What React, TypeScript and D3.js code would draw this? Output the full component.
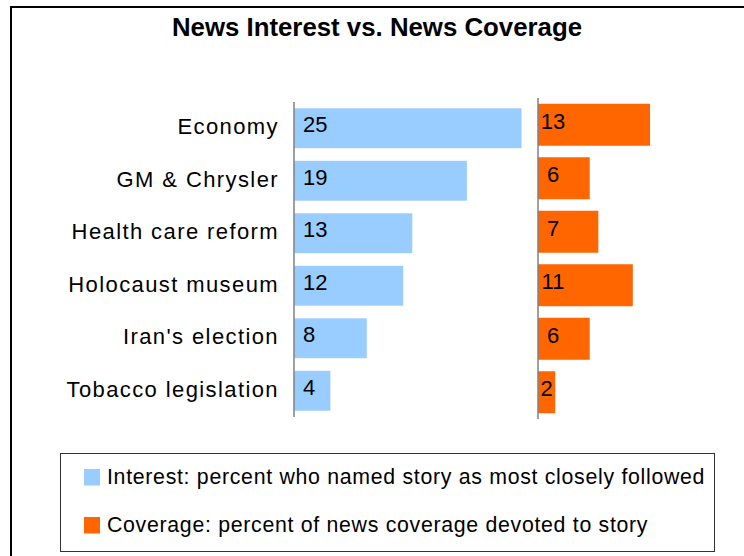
import React from 'react';
import * as d3 from 'd3';

const title = "News Interest vs. News Coverage";
const categories = [
  "Economy",
  "GM & Chrysler",
  "Health care reform",
  "Holocaust museum",
  "Iran's election",
  "Tobacco legislation",
];
const interest = [25, 19, 13, 12, 8, 4];
const coverage = [13, 6, 7, 11, 6, 2];
const legendLabels = [
  "Interest: percent who named story as most closely followed",
  "Coverage: percent of news coverage devoted to story",
];
const seriesColors = ["#99CCFF", "#FF6600"];

const FONT = "'Liberation Sans', Arial, sans-serif";

export default function App() {
  const yL = d3.scaleBand<string>().domain(categories).range([102, 417]).paddingInner(0.24).paddingOuter(0.12);
  const yR = d3.scaleBand<string>().domain(categories).range([98, 419]).paddingInner(0.215).paddingOuter(0.1075);
  const xL = d3.scaleLinear().domain([0, 30]).range([294, 567]);
  const xR = d3.scaleLinear().domain([0, 20]).range([538, 710.4]);

  return (
    <svg width={744} height={556} style={{ position: 'absolute', left: 0, top: 0, background: '#fff' }}>
      <rect x={0} y={0} width={744} height={556} fill="#fff" />
      <rect x={11} y={7} width={760} height={580} fill="none" stroke="#000" strokeWidth={2} />
      <text x={377} y={36} textAnchor="middle" fontFamily={FONT} fontWeight="bold" fontSize={25.8} fill="#000">
        {title}
      </text>

      {/* category labels */}
      {categories.map((c) => (
        <text key={c} x={279} y={(yL(c) as number) + yL.bandwidth() / 2 + 6} textAnchor="end"
          fontFamily={FONT} fontSize={22} letterSpacing={1.4} fill="#000">{c}</text>
      ))}

      {/* interest bars */}
      {categories.map((c, i) => (
        <g key={'i' + c}>
          <rect x={xL(0)} y={yL(c)} width={xL(interest[i]) - xL(0)} height={yL.bandwidth()} fill={seriesColors[0]} />
          <text x={303} y={(yL(c) as number) + yL.bandwidth() / 2 + 4} fontFamily={FONT} fontSize={22} fill="#000">
            {interest[i]}
          </text>
        </g>
      ))}
      <line x1={xL(0)} x2={xL(0)} y1={102} y2={417} stroke="#808080" strokeWidth={1.5} />

      {/* coverage bars */}
      {categories.map((c, i) => {
        const x0 = xR(0);
        const x1 = xR(coverage[i]);
        const cx = Math.min(553, (x0 + x1) / 2);
        return (
          <g key={'c' + c}>
            <rect x={x0} y={yR(c)} width={x1 - x0} height={yR.bandwidth()} fill={seriesColors[1]} />
            <text x={cx} y={(yR(c) as number) + yR.bandwidth() / 2 + 4} textAnchor="middle" fontFamily={FONT} fontSize={22} fill="#000">
              {coverage[i]}
            </text>
          </g>
        );
      })}
      <line x1={xR(0)} x2={xR(0)} y1={98} y2={419} stroke="#808080" strokeWidth={1.5} />

      {/* legend */}
      <rect x={60.5} y={453.5} width={654} height={98} fill="#fff" stroke="#333" strokeWidth={1} />
      {legendLabels.map((l, i) => (
        <g key={l}>
          <rect x={84} y={469 + i * 48} width={16} height={16.5} fill={seriesColors[i]} />
          <text x={107} y={484 + i * 48} fontFamily={FONT} fontSize={21.3} letterSpacing={0.7} fill="#000">{l}</text>
        </g>
      ))}
    </svg>
  );
}
